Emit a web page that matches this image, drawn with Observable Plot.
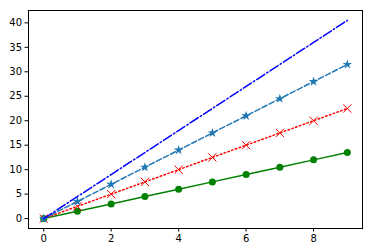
<!DOCTYPE html>
<html>
<head>
<meta charset="utf-8">
<script src="https://cdn.jsdelivr.net/npm/d3@7"></script>
<script src="https://cdn.jsdelivr.net/npm/@observablehq/plot@0.6"></script>
<style>
  html, body { margin: 0; padding: 0; background: #fff; }
  #chart svg { display: block; }
</style>
</head>
<body>
<div id="chart"></div>
<script>
const xs = [0, 1, 2, 3, 4, 5, 6, 7, 8, 9];
const greenVals = [0, 1.5, 3, 4.5, 6, 7.5, 9, 10.5, 12, 13.5];
const redVals = [0, 2.5, 5, 7.5, 10, 12.5, 15, 17.5, 20, 22.5];
const starVals = [0, 3.5, 7, 10.5, 14, 17.5, 21, 24.5, 28, 31.5];
const blueVals = [0, 4.5, 9, 13.5, 18, 22.5, 27, 31.5, 36, 40.5];
const xTicks = [0, 2, 4, 6, 8];
const yTicks = [0, 5, 10, 15, 20, 25, 30, 35, 40];

const rows = (vals) => xs.map((x, i) => ({x, y: vals[i]}));
const green = rows(greenVals), red = rows(redVals), star = rows(starVals), blue = rows(blueVals);

const chart = Plot.plot({
  width: 372,
  height: 252,
  marginLeft: 28,
  marginRight: 10,
  marginTop: 10,
  marginBottom: 24,
  style: {fontFamily: "DejaVu Sans", fontSize: "10px", color: "#000", background: "#fff"},
  x: {domain: [-0.45, 9.45], ticks: xTicks, tickFormat: d => String(d)},
  y: {domain: [-2.025, 42.525], ticks: yTicks, tickFormat: d => String(d)},
  marks: [
    Plot.axisX({ticks: xTicks, tickSize: 3.5, tickPadding: 3, label: null, fontSize: 10}),
    Plot.axisY({ticks: yTicks, tickSize: 3.5, tickPadding: 3, label: null, fontSize: 10}),
    Plot.line(green, {x: "x", y: "y", stroke: "green", strokeWidth: 1.5}),
    Plot.dot(green, {x: "x", y: "y", fill: "green", r: 3.5}),
    Plot.line(red, {x: "x", y: "y", stroke: "red", strokeWidth: 1.5, strokeDasharray: "1.5,2.5"}),
    Plot.dot(red, {x: "x", y: "y", symbol: "times", stroke: "red", strokeWidth: 1, r: 3.8}),
    Plot.line(star, {x: "x", y: "y", stroke: "#1f77b4", strokeWidth: 1.5, strokeDasharray: "5.5,2.4"}),
    Plot.dot(star, {x: "x", y: "y", symbol: "star", fill: "#1f77b4", r: 3}),
    Plot.line(blue, {x: "x", y: "y", stroke: "blue", strokeWidth: 1.5, strokeDasharray: "9.6,2.4,1.5,2.4"}),
    Plot.frame({stroke: "#000", strokeWidth: 1})
  ]
});
document.getElementById("chart").appendChild(chart);
</script>
</body>
</html>
